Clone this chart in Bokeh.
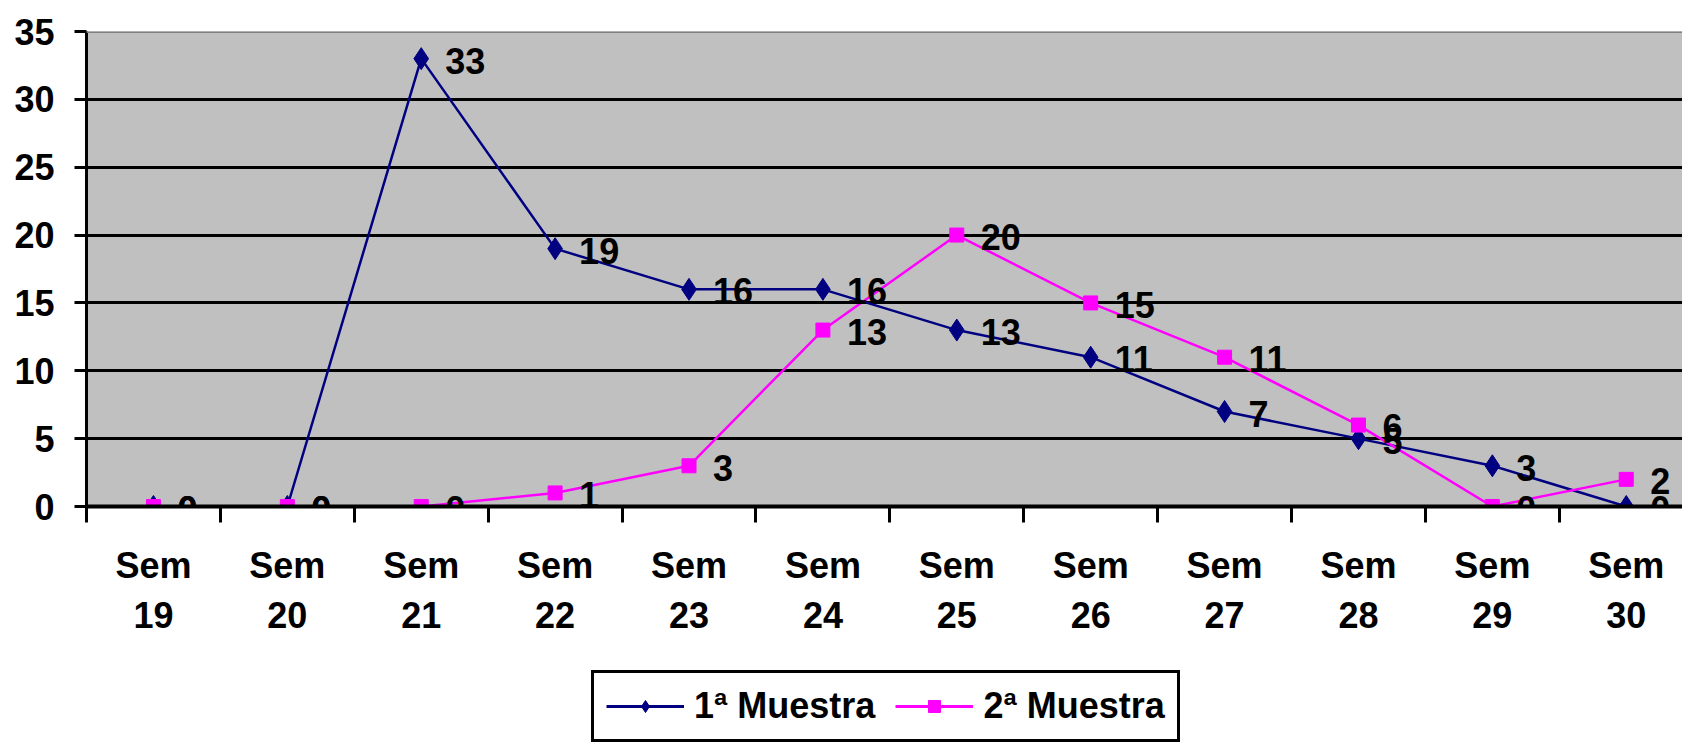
from bokeh.plotting import figure
from bokeh.layouts import column
from bokeh.models import (Range1d, FixedTicker, ColumnDataSource, Legend,
                          LegendItem, Span)
from bokeh.core.properties import value
from bokeh.embed import file_html
from bokeh.resources import INLINE

# ---- data ----
WEEKS = [19, 20, 21, 22, 23, 24, 25, 26, 27, 28, 29, 30]
CATEGORY_LABELS = ["Sem\n%d" % w for w in WEEKS]
SERIES_1_NAME = "1ª Muestra"
SERIES_2_NAME = "2ª Muestra"
SERIES_1 = [0, 0, 33, 19, 16, 16, 13, 11, 7, 5, 3, 0]
SERIES_2 = [0, 0, 0, 1, 3, 13, 20, 15, 11, 6, 0, 2]
Y_TICKS = [0, 5, 10, 15, 20, 25, 30, 35]
Y_MAX = 35

FONT = "Liberation Sans"
NAVY = "#000080"
MAGENTA = "#FF00FF"
STYLE_1 = dict(color=NAVY, marker="diamond", size=22)
STYLE_2 = dict(color=MAGENTA, marker="square", size=14)

idx = list(range(len(WEEKS)))
boundaries = [i - 0.5 for i in range(len(WEEKS) + 1)]

src1 = ColumnDataSource(dict(x=idx, y=SERIES_1, t=[str(v) for v in SERIES_1]))
src2 = ColumnDataSource(dict(x=idx, y=SERIES_2, t=[str(v) for v in SERIES_2]))

p = figure(width=1682, height=670, output_backend="svg", toolbar_location=None,
           x_range=Range1d(-0.5, 11.42), y_range=Range1d(0, Y_MAX),
           min_border_left=86, min_border_right=0, min_border_top=31,
           min_border_bottom=164,
           background_fill_color="#C0C0C0", border_fill_color="white",
           outline_line_color=None)

# grid
p.xgrid.grid_line_color = None
p.ygrid.ticker = FixedTicker(ticks=Y_TICKS[1:-1])
p.ygrid.grid_line_color = "black"
p.ygrid.grid_line_width = 3
p.add_layout(Span(location=Y_MAX, dimension="width", line_color="#808080",
                  line_width=3))

# y axis
yax = p.yaxis[0]
yax.ticker = FixedTicker(ticks=Y_TICKS)
yax.axis_line_color = "black"
yax.axis_line_width = 3
yax.major_tick_line_color = "black"
yax.major_tick_line_width = 3
yax.major_tick_in = 0
yax.major_tick_out = 12
yax.minor_tick_line_color = None
yax.major_label_standoff = 20
yax.major_label_text_font = FONT
yax.major_label_text_font_style = "bold"
yax.major_label_text_font_size = "36px"
yax.major_label_text_color = "black"

# x axis
xax = p.xaxis[0]
xax.ticker = FixedTicker(ticks=idx, minor_ticks=boundaries)
xax.major_label_overrides = {i: lab for i, lab in zip(idx, CATEGORY_LABELS)}
xax.axis_line_color = "black"
xax.axis_line_width = 4
xax.major_tick_line_color = None
xax.major_tick_in = 0
xax.major_tick_out = 0
xax.minor_tick_line_color = "black"
xax.minor_tick_line_width = 3
xax.minor_tick_in = 0
xax.minor_tick_out = 16
xax.major_label_standoff = 22
xax.major_label_text_font = FONT
xax.major_label_text_font_style = "bold"
xax.major_label_text_font_size = "36px"
xax.major_label_text_line_height = 1.22
xax.major_label_text_color = "black"

# series
p.line("x", "y", source=src1, line_color=STYLE_1["color"], line_width=2.5)
p.scatter("x", "y", source=src1, marker=STYLE_1["marker"], size=STYLE_1["size"],
          fill_color=STYLE_1["color"], line_color=STYLE_1["color"])
p.line("x", "y", source=src2, line_color=STYLE_2["color"], line_width=2.5)
p.scatter("x", "y", source=src2, marker=STYLE_2["marker"], size=STYLE_2["size"],
          fill_color=STYLE_2["color"], line_color=STYLE_2["color"])

for src in (src1, src2):
    p.text("x", "y", text="t", source=src, x_offset=24, y_offset=2,
           text_align="left", text_baseline="middle",
           text_font=value(FONT), text_font_style="bold",
           text_font_size="36px", text_color="black")

# ---- legend strip below the chart (its glyphs lie outside its view) ----
lg = figure(width=1682, height=75, output_backend="svg", toolbar_location=None,
            x_axis_type=None, y_axis_type=None,
            x_range=Range1d(100, 101), y_range=Range1d(100, 101),
            min_border_left=0, min_border_right=0, min_border_top=0,
            min_border_bottom=0, outline_line_color=None,
            background_fill_color="white", border_fill_color="white")
lg.grid.visible = False
items = []
for name, st, src in ((SERIES_1_NAME, STYLE_1, src1), (SERIES_2_NAME, STYLE_2, src2)):
    rl = lg.line("x", "y", source=src, line_color=st["color"], line_width=3)
    rm = lg.scatter("x", "y", source=src, marker=st["marker"], size=st["size"],
                    fill_color=st["color"], line_color=st["color"])
    items.append(LegendItem(label=name, renderers=[rl, rm]))

legend = Legend(items=items, orientation="horizontal", location=(505, 3))
legend.border_line_color = "black"
legend.border_line_alpha = 1
legend.border_line_width = 3
legend.background_fill_color = "white"
legend.background_fill_alpha = 1
legend.label_text_font = FONT
legend.label_text_font_style = "bold"
legend.label_text_font_size = "36px"
legend.label_text_color = "black"
legend.glyph_width = 78
legend.glyph_height = 30
legend.label_standoff = 10
legend.spacing = 20
legend.padding = 12
legend.margin = 0
lg.add_layout(legend, "center")

layout = column(p, lg, spacing=0)
open("out.html", "w").write(file_html(layout, INLINE))
